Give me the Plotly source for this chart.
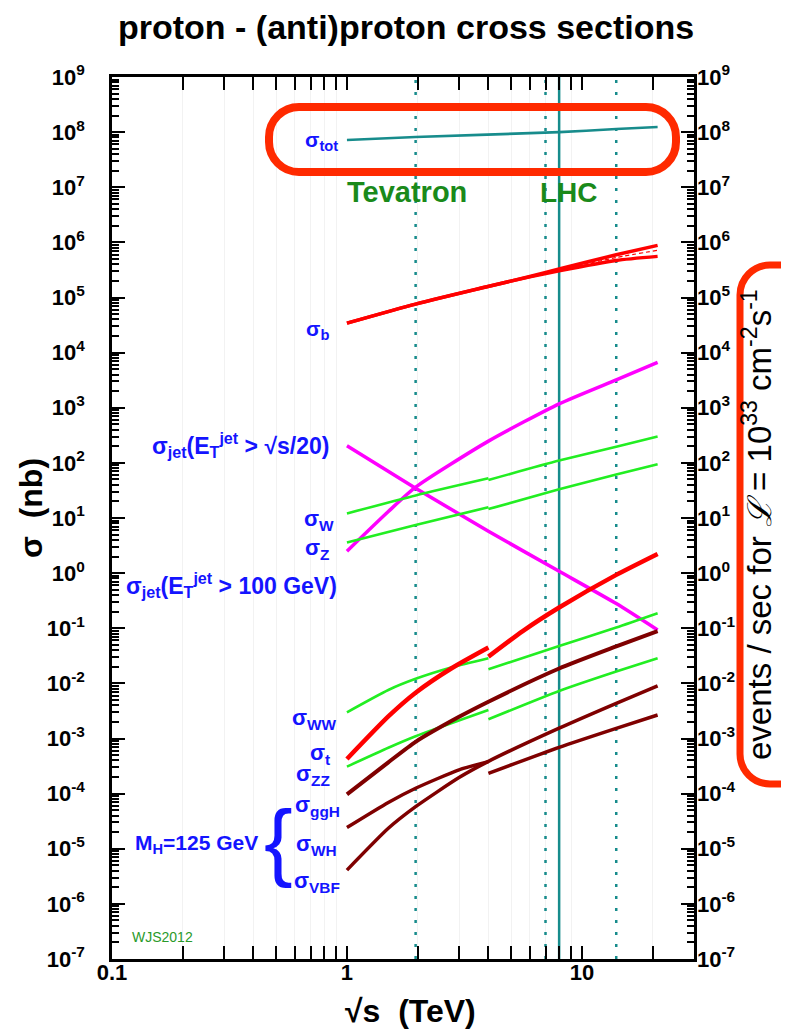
import plotly.graph_objects as go

# ---------------- data (sigma in nb, sqrt(s) in TeV) ----------------
sig_tot_x = [1, 1.96, 8, 14, 21]
sig_tot = [7.2e7, 8.15e7, 1.0e8, 1.14e8, 1.24e8]

sig_b_x = [1, 1.96, 3.9, 6, 8, 14, 21]
sig_b_hi = [3.43e4, 7.6e4, 1.55e5, 2.4e5, 3.3e5, 5.96e5, 8.83e5]
sig_b_lo = [3.43e4, 7.6e4, 1.55e5, 2.37e5, 3.05e5, 4.71e5, 5.57e5]
sig_b_mid_x = [6, 8, 14, 21]
sig_b_mid = [2.38e5, 3.18e5, 5.3e5, 7.2e5]

jet20_x = [1, 1.96, 4, 8, 14, 21]
jet20 = [204, 34.8, 5.75, 1.08, 0.28, 0.093]

jet100_x = [1, 1.5, 1.96, 4, 8, 14, 21]
jet100 = [2.5, 13.1, 36.2, 248, 1178, 3206, 6637]

w_ppbar_x = [1, 1.96, 4]
w_ppbar = [12.1, 25.7, 52.5]
w_pp_x = [4, 8, 14, 21]
w_pp = [49, 110, 197, 301]

z_ppbar_x = [1, 1.96, 4]
z_ppbar = [3.59, 7.5, 15.7]
z_pp_x = [4, 8, 14, 21]
z_pp = [14.5, 33.1, 61.7, 94.6]

t_ppbar_x = [1, 1.5, 1.96, 2.8, 4]
t_ppbar = [4.25e-4, 2.51e-3, 6.76e-3, 1.9e-2, 4.47e-2]
t_pp_x = [4, 5.6, 8, 14, 21]
t_pp = [3.06e-2, 8.9e-2, 0.238, 0.93, 2.23]

ww_ppbar_x = [1, 1.5, 1.96, 2.8, 4]
ww_ppbar = [2.99e-3, 7.6e-3, 1.21e-2, 1.96e-2, 2.86e-2]
ww_pp_x = [4, 8, 14, 21]
ww_pp = [1.8e-2, 4.78e-2, 0.103, 0.187]

zz_ppbar_x = [1, 1.5, 1.96, 4]
zz_ppbar = [3.09e-4, 6.8e-4, 1.10e-3, 3.29e-3]
zz_pp_x = [4, 8, 14, 21]
zz_pp = [2.23e-3, 7.28e-3, 1.64e-2, 2.86e-2]

ggh_x = [1, 1.5, 1.96, 3, 4, 8, 14, 21]
ggh = [9.7e-5, 3.7e-4, 8.7e-4, 2.47e-3, 4.65e-3, 1.86e-2, 4.68e-2, 8.9e-2]

wh_ppbar_x = [1, 1.5, 1.96, 3, 4]
wh_ppbar = [2.42e-5, 6.9e-5, 1.25e-4, 2.7e-4, 3.8e-4]
wh_pp_x = [4, 8, 14, 21]
wh_pp = [2.33e-4, 6.92e-4, 1.53e-3, 2.67e-3]

vbf_x = [1, 1.5, 1.96, 3, 4, 8, 14, 21]
vbf = [4.1e-6, 2.35e-5, 5.8e-5, 1.96e-4, 3.85e-4, 1.54e-3, 4.35e-3, 9.0e-3]

tevatron_energy = [1.96]
lhc_energies_dotted = [7, 14]
lhc_energy_solid = [8]

x_ticks = [0.1, 1, 10]
x_ticktext = ["0.1", "1", "10"]
y_exponents = list(range(-7, 10))

# ---------------- styling ----------------
FONT = "Liberation Sans, Arial, Helvetica, sans-serif"
RED = "#ff0000"
MAG = "#ff00ff"
GRN = "#22ee22"
MAROON = "#7f0000"
TEAL = "#178c8c"
BLUE = "#1414ff"
DGREEN = "#1a8a1a"
OVAL = "#ff2a00"

W, H = 789, 1033
PL, PR, PT, PB = 104, 686, 69, 951

def X(px):
    return (px - PL) / (PR - PL)

def Y(py):
    return (PB - py) / (PB - PT)

fig = go.Figure()

def add_line(x, y, color, width, dash=None):
    fig.add_trace(go.Scatter(x=x, y=y, mode="lines",
                             line=dict(color=color, width=width, shape="spline",
                                       smoothing=0.6, dash=dash),
                             hoverinfo="skip", showlegend=False))

# collider lines
for e in tevatron_energy + lhc_energies_dotted:
    fig.add_trace(go.Scatter(x=[e, e], y=[1e-7, 1e9], mode="lines",
                             line=dict(color=TEAL, width=2.5, dash="3px,9px"),
                             hoverinfo="skip", showlegend=False))
for e in lhc_energy_solid:
    fig.add_trace(go.Scatter(x=[e, e], y=[1e-7, 1e9], mode="lines",
                             line=dict(color=TEAL, width=2.5),
                             hoverinfo="skip", showlegend=False))

add_line(sig_tot_x, sig_tot, TEAL, 2.6)
add_line(sig_b_x, sig_b_hi, RED, 3.5)
add_line(sig_b_x, sig_b_lo, RED, 3.5)
add_line(sig_b_mid_x, sig_b_mid, RED, 1.2, dash="4px,3px")
add_line(jet20_x, jet20, MAG, 3.5)
add_line(jet100_x, jet100, MAG, 3.5)
add_line(w_ppbar_x, w_ppbar, GRN, 2.6)
add_line(w_pp_x, w_pp, GRN, 2.6)
add_line(z_ppbar_x, z_ppbar, GRN, 2.6)
add_line(z_pp_x, z_pp, GRN, 2.6)
add_line(ww_ppbar_x, ww_ppbar, GRN, 2.6)
add_line(ww_pp_x, ww_pp, GRN, 2.6)
add_line(zz_ppbar_x, zz_ppbar, GRN, 2.6)
add_line(zz_pp_x, zz_pp, GRN, 2.6)
add_line(ggh_x, ggh, MAROON, 4)
add_line(wh_ppbar_x, wh_ppbar, MAROON, 3.5)
add_line(wh_pp_x, wh_pp, MAROON, 3.5)
add_line(vbf_x, vbf, MAROON, 3.5)
add_line(t_ppbar_x, t_ppbar, RED, 4.5)
add_line(t_pp_x, t_pp, RED, 4.5)

# ---------------- axes ----------------
x_minor = [m * 10 ** d for d in (-1, 0, 1) for m in range(2, 10) if m * 10 ** d < 30]
y_minor = [m * 10.0 ** d for d in range(-7, 9) for m in range(2, 10)]
y_vals = [10.0 ** e for e in y_exponents]
y_text = ["10<sup>%d</sup>" % e for e in y_exponents]

tickfont = dict(family=FONT, size=22, color="black", weight="bold")

fig.update_layout(
    width=W, height=H, autosize=False,
    margin=dict(l=PL, r=W - PR, t=PT, b=H - PB, pad=0),
    paper_bgcolor="white", plot_bgcolor="white",
    font=dict(family=FONT, color="black"),
    xaxis=dict(type="log", range=[-1, 1.4771], tickmode="array",
               tickvals=x_ticks, ticktext=x_ticktext, ticks="inside",
               ticklen=13, tickwidth=2, tickcolor="black", mirror="allticks",
               showline=True, linewidth=2.5, linecolor="black", showgrid=False,
               zeroline=False, tickfont=tickfont, ticklabelstandoff=-8,
               minor=dict(tickmode="array", tickvals=x_minor, ticks="inside",
                          ticklen=7, tickwidth=2, tickcolor="black",
                          showgrid=True, gridcolor="#f2f2f2", gridwidth=1)),
    yaxis=dict(type="log", range=[-7, 9], tickmode="array", tickvals=y_vals,
               ticktext=y_text, ticks="inside", ticklen=13, tickwidth=2,
               tickcolor="black", mirror="allticks", showline=True,
               linewidth=2.5, linecolor="black", showgrid=False, zeroline=False,
               tickfont=tickfont, ticklabelstandoff=20,
               minor=dict(tickmode="array", tickvals=y_minor, ticks="inside",
                          ticklen=7, tickwidth=2, tickcolor="black",
                          showgrid=False)),
    yaxis2=dict(type="log", range=[-7, 9], overlaying="y", side="right",
                tickmode="array", tickvals=y_vals, ticktext=y_text, ticks="",
                showline=False, showgrid=False, zeroline=False,
                tickfont=tickfont, ticklabelstandoff=2),
)
# invisible trace to activate right axis
fig.add_trace(go.Scatter(x=[1], y=[1], yaxis="y2", mode="markers",
                         marker=dict(opacity=0), hoverinfo="skip", showlegend=False))

# ---------------- ovals ----------------
def stadium(x0, y0, x1, y1, r):
    k = 0.5523 * r
    p = lambda a, b: "%.5f,%.5f" % (X(a), Y(b))
    return ("M " + p(x0 + r, y0) + " L " + p(x1 - r, y0) +
            " C " + p(x1 - r + k, y0) + " " + p(x1, y0 + r - k) + " " + p(x1, y0 + r) +
            " L " + p(x1, y1 - r) +
            " C " + p(x1, y1 - r + k) + " " + p(x1 - r + k, y1) + " " + p(x1 - r, y1) +
            " L " + p(x0 + r, y1) +
            " C " + p(x0 + r - k, y1) + " " + p(x0, y1 - r + k) + " " + p(x0, y1 - r) +
            " L " + p(x0, y0 + r) +
            " C " + p(x0, y0 + r - k) + " " + p(x0 + r - k, y0) + " " + p(x0 + r, y0) + " Z")

fig.add_shape(type="path", xref="paper", yref="paper", layer="above",
              path=stadium(261, 99, 668, 164, 30),
              line=dict(color=OVAL, width=8))
fig.add_shape(type="path", xref="paper", yref="paper", layer="above",
              path=stadium(732, 257, 805, 776, 30),
              line=dict(color=OVAL, width=7))

# ---------------- text ----------------
def ann(text, xp, yp, size, color="black", xanchor="center", angle=0, bold=True):
    fig.add_annotation(text=("<b>%s</b>" % text) if bold else text,
                       x=X(xp), y=Y(yp), xref="paper", yref="paper",
                       xanchor=xanchor, yanchor="middle", showarrow=False,
                       textangle=angle,
                       font=dict(family=FONT, size=size, color=color))

ann("proton - (anti)proton cross sections", 398, 19, 34)
ann("√s&nbsp;&nbsp;(TeV)", 402, 1003, 32)
ann("σ&nbsp;&nbsp;(nb)", 23, 500, 32, angle=-90)
ann("events / sec for <i>ℒ</i> = 10<sup>33</sup> cm<sup>-2</sup>s<sup>-1</sup>",
    749, 517, 33, angle=-90, bold=False)

ann("Tevatron", 399, 184, 29, DGREEN)
ann("LHC", 561, 184, 28, DGREEN)
ann("WJS2012", 154, 929, 14, "#2a9a2a", bold=False)

ann("σ<sub>tot</sub>", 332, 133, 21, BLUE, "right")
ann("σ<sub>b</sub>", 323, 322, 21, BLUE, "right")
ann("σ<sub>jet</sub>(E<sub>T</sub><sup>jet</sup> > √s/20)", 323, 437, 23, BLUE, "right")
ann("σ<sub>W</sub>", 328, 512, 22, BLUE, "right")
ann("σ<sub>Z</sub>", 323, 541, 22, BLUE, "right")
ann("σ<sub>jet</sub>(E<sub>T</sub><sup>jet</sup> > 100 GeV)", 331, 577, 23, BLUE, "right")
ann("σ<sub>WW</sub>", 331, 711, 22, BLUE, "right")
ann("σ<sub>t</sub>", 324, 746, 22, BLUE, "right")
ann("σ<sub>ZZ</sub>", 324, 767, 22, BLUE, "right")
ann("σ<sub>ggH</sub>", 334, 798, 22, BLUE, "right")
ann("σ<sub>WH</sub>", 331, 837, 22, BLUE, "right")
ann("σ<sub>VBF</sub>", 334, 874, 22, BLUE, "right")
ann("M<sub>H</sub>=125 GeV", 252, 836, 21, BLUE, "right")
ann("{", 270, 832, 86, BLUE, bold=False)

fig.write_html("out.html")
